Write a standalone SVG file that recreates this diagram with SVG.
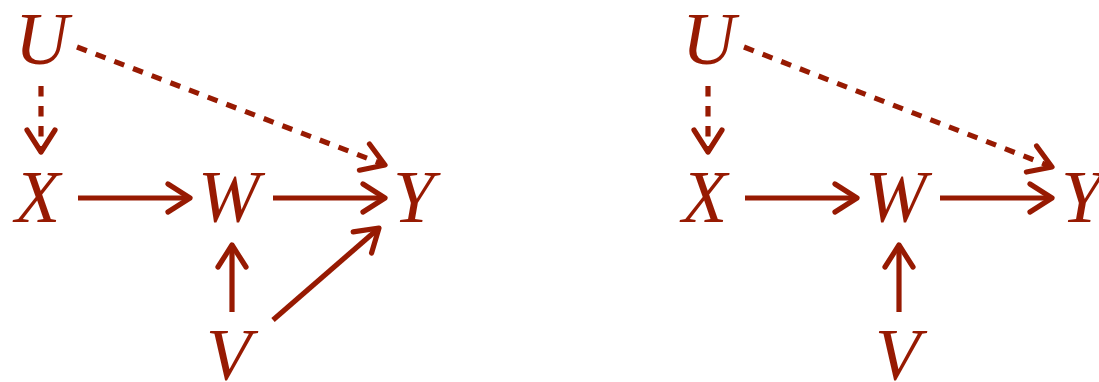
<svg xmlns="http://www.w3.org/2000/svg" width="1099" height="382" viewBox="0 0 1099 382">
<style>
.lbl{font-family:"Liberation Serif","Times New Roman",serif;font-style:italic;font-size:74px;fill:#971a02}
.e{fill:none;stroke:#971a02;stroke-width:5.2}
.d{stroke-dasharray:10.5 9.5}
.h{fill:none;stroke:#971a02;stroke-width:5.2;stroke-linecap:round;stroke-linejoin:round}
</style>
<defs>
<marker id="ah" markerUnits="userSpaceOnUse" orient="auto" refX="0" refY="0" markerWidth="40" markerHeight="40" overflow="visible">
<path class="h" d="M-22,-14 L0,0 L-22,14"/>
</marker>
</defs>
<g id="connectors">
<path class="e d" d="M41,86 L41,152" marker-end="url(#ah)"/>
<path class="e d" d="M77,47 L385,165" marker-end="url(#ah)"/>
<path class="e" d="M78,198 L190,198" marker-end="url(#ah)"/>
<path class="e" d="M273,198 L385,198" marker-end="url(#ah)"/>
<path class="e" d="M232,312 L232,245" marker-end="url(#ah)"/>
<path class="e" d="M273,320 L379,228" marker-end="url(#ah)"/>
<path class="e d" d="M708,86 L708,152" marker-end="url(#ah)"/>
<path class="e d" d="M744,47 L1052,167" marker-end="url(#ah)"/>
<path class="e" d="M745,198 L857,198" marker-end="url(#ah)"/>
<path class="e" d="M940,198 L1052,198" marker-end="url(#ah)"/>
<path class="e" d="M899,312 L899,245" marker-end="url(#ah)"/>
</g>
<g id="U1"><text class="lbl" x="15" y="64">U</text></g>
<g id="X1"><text class="lbl" x="15" y="222">X</text></g>
<g id="W1"><text class="lbl" x="198" y="222">W</text></g>
<g id="Y1"><text class="lbl" x="393" y="222">Y</text></g>
<g id="V1"><text class="lbl" x="206" y="380">V</text></g>
<g id="U2"><text class="lbl" x="682" y="64">U</text></g>
<g id="X2"><text class="lbl" x="682" y="222">X</text></g>
<g id="W2"><text class="lbl" x="865" y="222">W</text></g>
<g id="Y2"><text class="lbl" x="1061" y="222">Y</text></g>
<g id="V2"><text class="lbl" x="875" y="380">V</text></g>
</svg>
